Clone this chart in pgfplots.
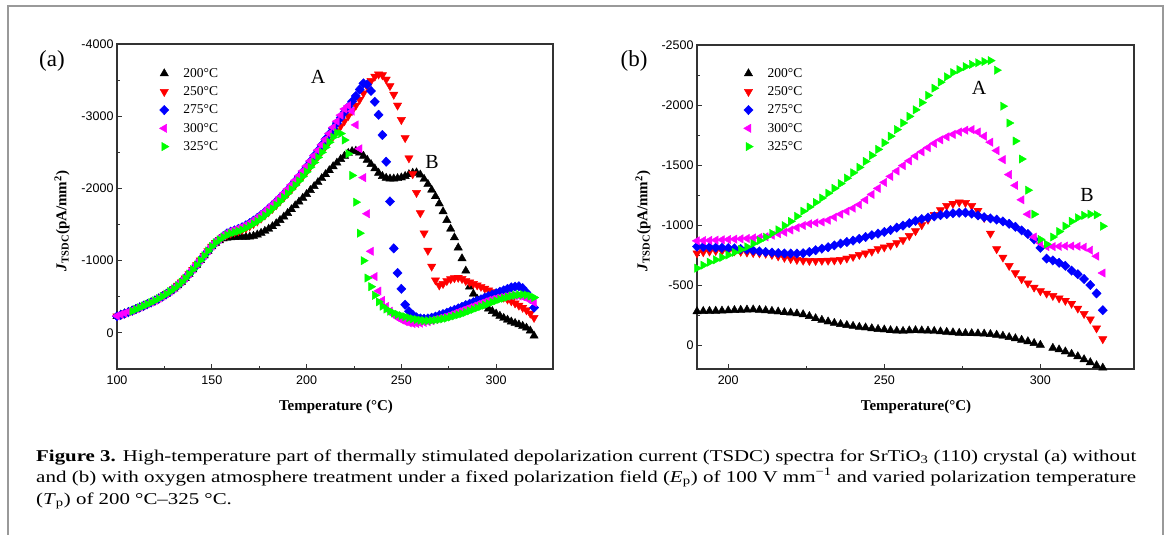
\documentclass[border=0pt]{standalone}
\usepackage{pgfplots}
\pgfplotsset{compat=1.18}
\usepackage{fontspec}
\setmainfont{Liberation Serif}
\newfontfamily\arial{Liberation Sans}

\definecolor{cR}{RGB}{255,0,0}
\definecolor{cB}{RGB}{0,0,255}
\definecolor{cM}{RGB}{255,0,255}
\definecolor{cG}{RGB}{0,255,0}

\pgfplotsset{
  tsdc/.style={
    scale only axis, anchor=south west,
    axis line style={line width=1.1pt, black!80},
    tick style={line width=0.9pt, black!80},
    tick align=inside, xtick pos=left, ytick pos=left,
    major tick length=5pt, minor tick length=3pt,
    minor x tick num=1, minor y tick num=1,
    y dir=reverse, clip=false,
    tick label style={font=\arial\fontsize{12.5}{13}\selectfont},
    xticklabel style={yshift=-3pt},
    /pgf/number format/assume math mode=true,
    /pgf/number format/1000 sep={},
    legend cell align=left,
    legend style={draw=none, fill=none, anchor=north west, inner sep=0pt,
      row sep=7.8pt, font=\fontsize{13.5}{14}\selectfont, nodes={inner sep=0pt}},
  },
  leg/.style={legend image code/.code={\path (0pt,0pt) (27pt,0pt); \draw[##1] plot coordinates {(8pt,0pt)};}},
  s200/.style={only marks, mark=triangle*, mark size=4.8pt, color=black, leg},
  s250/.style={only marks, mark=triangle*, mark size=4.8pt, color=cR, mark options={rotate=180}, leg},
  s275/.style={only marks, mark=diamond*, mark size=4.7pt, color=cB, mark options={xscale=1.3}, leg},
  s300/.style={only marks, mark=triangle*, mark size=4.8pt, color=cM, mark options={rotate=90}, leg},
  s325/.style={only marks, mark=triangle*, mark size=4.8pt, color=cG, mark options={rotate=-90}, leg},
}

\newsavebox\capone

\begin{document}
\sbox\capone{\fontsize{16.5}{21}\selectfont\textbf{Figure 3.} High-temperature part of thermally stimulated depolarization current (TSDC) spectra for SrTiO\textsubscript{3} (110) crystal (a) without}%
\pgfmathsetmacro\capf{1100/\the\wd\capone}%
\begin{tikzpicture}
\path[use as bounding box] (0pt,0pt) rectangle (1168pt,-535pt);
\draw[black!40, line width=1.3pt] (8pt,-6pt) rectangle (1163pt,-545pt);

% ---------- (a) without oxygen treatment
\begin{axis}[tsdc, at={(117pt,-369pt)}, width=436pt, height=325pt,
    xmin=100, xmax=330, ymin=-4000, ymax=500,
    xtick={100,150,...,300}, ytick={-4000,-3000,...,0},
    legend style={at={(axis cs:120.5,-3667)}}]
\addplot[s200] coordinates {(100,-230)(102,-250)(104,-268)(106,-288)(108,-308)(110,-330)(112,-352)(114,-375)(116,-398)(118,-422)(120,-447)(122,-475)(124,-505)(126,-538)(128,-573)(130,-612)(132,-655)(134,-703)(136,-757)(138,-815)(140,-876)(142,-940)(144,-1005)(146,-1070)(148,-1135)(150,-1195)(152,-1245)(154,-1280)(156,-1305)(158,-1316)(160,-1322)(162,-1325)(164,-1326)(166,-1327)(168,-1328)(170,-1332)(172,-1342)(174,-1360)(176,-1383)(178,-1410)(180,-1440)(182,-1475)(184,-1515)(186,-1560)(188,-1608)(190,-1658)(192,-1710)(194,-1763)(196,-1815)(198,-1868)(200,-1920)(202,-1975)(204,-2030)(206,-2085)(208,-2140)(210,-2195)(212,-2250)(214,-2305)(216,-2355)(218,-2405)(220,-2450)(222,-2490)(224,-2515)(226,-2520)(228,-2495)(230,-2450)(232,-2395)(234,-2335)(236,-2275)(238,-2215)(240,-2170)(242,-2145)(244,-2135)(246,-2135)(248,-2140)(250,-2150)(252,-2170)(254,-2195)(256,-2215)(258,-2220)(260,-2190)(262,-2130)(264,-2060)(266,-1980)(268,-1890)(270,-1790)(272,-1680)(274,-1560)(276,-1440)(278,-1320)(280,-1180)(282,-1030)(284,-860)(286,-640)(288,-540)(290,-470)(292,-420)(294,-375)(296,-335)(298,-300)(300,-265)(302,-235)(304,-205)(306,-180)(308,-155)(310,-135)(312,-115)(314,-95)(316,-70)(318,-30)(320,40)};
\addlegendentry{200°C}
\addplot[s250] coordinates {(100,-230)(102,-250)(104,-268)(106,-288)(108,-308)(110,-330)(112,-352)(114,-375)(116,-398)(118,-422)(120,-447)(122,-475)(124,-505)(126,-538)(128,-573)(130,-612)(132,-655)(134,-703)(136,-757)(138,-815)(140,-876)(142,-940)(144,-1005)(146,-1070)(148,-1135)(150,-1195)(152,-1248)(154,-1290)(156,-1330)(158,-1360)(160,-1380)(162,-1395)(164,-1410)(166,-1428)(168,-1450)(170,-1478)(172,-1510)(174,-1545)(176,-1585)(178,-1628)(180,-1673)(182,-1720)(184,-1770)(186,-1822)(188,-1875)(190,-1930)(192,-1988)(194,-2047)(196,-2108)(198,-2170)(200,-2235)(202,-2305)(204,-2375)(206,-2445)(208,-2515)(210,-2585)(212,-2655)(214,-2725)(216,-2795)(218,-2865)(220,-2935)(222,-3005)(224,-3075)(226,-3150)(228,-3230)(230,-3320)(232,-3410)(234,-3490)(236,-3550)(238,-3580)(240,-3570)(242,-3510)(244,-3420)(246,-3300)(248,-3150)(250,-2950)(252,-2700)(254,-2420)(256,-2200)(258,-1940)(260,-1660)(262,-1380)(264,-1140)(266,-920)(268,-730)(270,-660)(272,-680)(274,-720)(276,-745)(278,-760)(280,-765)(282,-750)(284,-720)(286,-700)(288,-680)(290,-660)(292,-640)(294,-615)(296,-590)(298,-565)(300,-540)(302,-515)(304,-490)(306,-465)(308,-440)(310,-410)(312,-380)(314,-350)(316,-315)(318,-270)(320,-210)};
\addlegendentry{250°C}
\addplot[s275] coordinates {(100,-230)(102,-250)(104,-268)(106,-288)(108,-308)(110,-330)(112,-352)(114,-375)(116,-398)(118,-422)(120,-447)(122,-475)(124,-505)(126,-538)(128,-573)(130,-612)(132,-655)(134,-703)(136,-757)(138,-815)(140,-876)(142,-940)(144,-1005)(146,-1070)(148,-1135)(150,-1195)(152,-1250)(154,-1295)(156,-1340)(158,-1378)(160,-1402)(162,-1420)(164,-1440)(166,-1462)(168,-1490)(170,-1520)(172,-1555)(174,-1592)(176,-1632)(178,-1676)(180,-1722)(182,-1770)(184,-1820)(186,-1872)(188,-1925)(190,-1980)(192,-2040)(194,-2100)(196,-2165)(198,-2232)(200,-2300)(202,-2375)(204,-2450)(206,-2525)(208,-2600)(210,-2680)(212,-2755)(214,-2830)(216,-2905)(218,-2980)(220,-3055)(222,-3130)(224,-3205)(226,-3280)(228,-3370)(230,-3455)(232,-3440)(234,-3350)(236,-3200)(238,-3020)(240,-2740)(242,-2370)(244,-1820)(246,-1170)(248,-830)(250,-610)(252,-390)(254,-300)(256,-250)(258,-215)(260,-200)(262,-195)(264,-200)(266,-210)(268,-225)(270,-245)(272,-260)(274,-280)(276,-300)(278,-320)(280,-340)(282,-360)(284,-385)(286,-405)(288,-425)(290,-445)(292,-465)(294,-490)(296,-510)(298,-530)(300,-550)(302,-570)(304,-590)(306,-610)(308,-630)(310,-640)(312,-645)(314,-620)(316,-560)(318,-470)(320,-350)};
\addlegendentry{275°C}
\addplot[s300] coordinates {(100,-235)(102,-255)(104,-273)(106,-293)(108,-313)(110,-335)(112,-357)(114,-380)(116,-403)(118,-427)(120,-452)(122,-480)(124,-510)(126,-543)(128,-578)(130,-617)(132,-660)(134,-708)(136,-762)(138,-820)(140,-881)(142,-945)(144,-1010)(146,-1075)(148,-1140)(150,-1200)(152,-1255)(154,-1300)(156,-1345)(158,-1385)(160,-1410)(162,-1428)(164,-1447)(166,-1468)(168,-1493)(170,-1522)(172,-1556)(174,-1594)(176,-1635)(178,-1680)(180,-1727)(182,-1776)(184,-1827)(186,-1880)(188,-1935)(190,-1992)(192,-2052)(194,-2113)(196,-2176)(198,-2242)(200,-2310)(202,-2382)(204,-2455)(206,-2530)(208,-2605)(210,-2680)(212,-2760)(214,-2845)(216,-2930)(218,-3015)(220,-3100)(222,-3145)(224,-3070)(226,-2880)(228,-2550)(230,-2150)(232,-1650)(234,-1130)(236,-780)(238,-580)(240,-450)(242,-365)(244,-300)(246,-250)(248,-210)(250,-180)(252,-155)(254,-140)(256,-130)(258,-130)(260,-135)(262,-145)(264,-155)(266,-170)(268,-185)(270,-200)(272,-215)(274,-230)(276,-250)(278,-270)(280,-290)(282,-310)(284,-330)(286,-350)(288,-370)(290,-390)(292,-410)(294,-430)(296,-450)(298,-465)(300,-480)(302,-490)(304,-500)(306,-510)(308,-515)(310,-515)(312,-510)(314,-500)(316,-480)(318,-460)(320,-420)};
\addlegendentry{300°C}
\addplot[s325] coordinates {(108,-300)(110,-325)(112,-348)(114,-372)(116,-396)(118,-420)(120,-446)(122,-474)(124,-504)(126,-537)(128,-572)(130,-611)(132,-654)(134,-702)(136,-756)(138,-814)(140,-875)(142,-939)(144,-1004)(146,-1069)(148,-1134)(150,-1195)(152,-1248)(154,-1290)(156,-1325)(158,-1355)(160,-1377)(162,-1393)(164,-1408)(166,-1427)(168,-1452)(170,-1480)(172,-1510)(174,-1544)(176,-1582)(178,-1626)(180,-1672)(182,-1720)(184,-1770)(186,-1822)(188,-1876)(190,-1932)(192,-1988)(194,-2045)(196,-2105)(198,-2167)(200,-2230)(202,-2295)(204,-2360)(206,-2430)(208,-2500)(210,-2570)(212,-2640)(214,-2710)(216,-2770)(218,-2760)(220,-2670)(222,-2480)(224,-2180)(226,-1810)(228,-1380)(230,-1000)(232,-760)(234,-640)(236,-520)(238,-430)(240,-370)(242,-330)(244,-300)(246,-275)(248,-255)(250,-240)(252,-225)(254,-210)(256,-195)(258,-185)(260,-175)(262,-170)(264,-170)(266,-172)(268,-178)(270,-185)(272,-195)(274,-205)(276,-220)(278,-235)(280,-250)(282,-265)(284,-285)(286,-305)(288,-325)(290,-345)(292,-365)(294,-385)(296,-405)(298,-425)(300,-445)(302,-465)(304,-480)(306,-495)(308,-510)(310,-520)(312,-530)(314,-530)(316,-525)(318,-510)(320,-490)};
\addlegendentry{325°C}
\end{axis}

% ---------- (b) with oxygen treatment
\begin{axis}[tsdc, at={(697pt,-369pt)}, width=437pt, height=324pt,
    xmin=190, xmax=330, ymin=-2500, ymax=200,
    xtick={200,250,300}, ytick={-2500,-2000,...,0},
    legend style={at={(axis cs:203.8,-2308)}}]
\addplot[s200] coordinates {(190,-280)(192,-282)(194,-283)(196,-284)(198,-285)(200,-287)(202,-290)(204,-292)(206,-294)(208,-295)(210,-292)(212,-288)(214,-283)(216,-278)(218,-272)(220,-268)(222,-262)(224,-255)(226,-240)(228,-222)(230,-208)(232,-195)(234,-183)(236,-173)(238,-165)(240,-158)(242,-150)(244,-145)(246,-138)(248,-132)(250,-128)(252,-122)(254,-118)(256,-116)(258,-120)(260,-122)(262,-120)(264,-118)(266,-116)(268,-112)(270,-108)(272,-104)(274,-100)(276,-98)(278,-97)(280,-96)(282,-94)(284,-90)(286,-84)(288,-76)(290,-65)(292,-55)(294,-42)(296,-30)(298,-15)(300,0)(304,25)(306,38)(308,55)(310,75)(312,95)(314,120)(316,145)(318,170)(320,190)};
\addlegendentry{200°C}
\addplot[s250] coordinates {(190,-765)(192,-775)(194,-780)(196,-785)(198,-785)(200,-785)(202,-782)(204,-778)(206,-772)(208,-768)(210,-765)(212,-762)(214,-752)(216,-740)(218,-728)(220,-718)(222,-710)(224,-704)(226,-702)(228,-702)(230,-703)(232,-704)(234,-706)(236,-710)(238,-722)(240,-736)(242,-752)(244,-765)(246,-780)(248,-800)(250,-815)(252,-830)(254,-850)(256,-875)(258,-910)(260,-950)(262,-1000)(264,-1045)(266,-1085)(268,-1125)(270,-1160)(272,-1178)(274,-1190)(276,-1185)(278,-1160)(280,-1120)(282,-1060)(284,-930)(286,-800)(288,-730)(290,-660)(292,-600)(294,-550)(296,-515)(298,-480)(300,-450)(302,-430)(304,-410)(306,-390)(308,-370)(310,-345)(312,-305)(314,-260)(316,-215)(318,-140)(320,-50)};
\addlegendentry{250°C}
\addplot[s275] coordinates {(190,-820)(192,-818)(194,-815)(196,-812)(198,-810)(200,-808)(202,-805)(204,-800)(206,-795)(208,-788)(210,-780)(212,-775)(214,-770)(216,-766)(218,-763)(220,-762)(222,-762)(224,-765)(226,-775)(228,-790)(230,-803)(232,-815)(234,-830)(236,-845)(238,-858)(240,-870)(242,-885)(244,-900)(246,-915)(248,-928)(250,-942)(252,-958)(254,-978)(256,-995)(258,-1015)(260,-1035)(262,-1050)(264,-1062)(266,-1072)(268,-1082)(270,-1090)(272,-1098)(274,-1102)(276,-1103)(278,-1095)(280,-1080)(282,-1065)(284,-1055)(286,-1045)(288,-1030)(290,-1010)(292,-985)(294,-955)(296,-925)(298,-880)(300,-810)(302,-720)(304,-705)(306,-685)(308,-660)(310,-620)(312,-590)(314,-550)(316,-500)(318,-430)(320,-290)};
\addlegendentry{275°C}
\addplot[s300] coordinates {(190,-868)(192,-870)(194,-872)(196,-874)(198,-877)(200,-879)(202,-882)(204,-885)(206,-888)(208,-892)(210,-896)(212,-902)(214,-915)(216,-928)(218,-940)(220,-958)(222,-978)(224,-996)(226,-1010)(228,-1018)(230,-1025)(232,-1040)(234,-1065)(236,-1090)(238,-1115)(240,-1140)(242,-1170)(244,-1210)(246,-1255)(248,-1305)(250,-1355)(252,-1405)(254,-1450)(256,-1495)(258,-1535)(260,-1575)(262,-1610)(264,-1645)(266,-1680)(268,-1710)(270,-1735)(272,-1755)(274,-1775)(276,-1790)(278,-1795)(280,-1775)(282,-1740)(284,-1690)(286,-1620)(288,-1545)(290,-1420)(292,-1330)(294,-1210)(296,-1090)(298,-900)(300,-850)(302,-820)(304,-820)(306,-822)(308,-825)(310,-825)(312,-822)(314,-815)(316,-790)(318,-740)(320,-600)};
\addlegendentry{300°C}
\addplot[s325] coordinates {(190,-640)(192,-665)(194,-690)(196,-710)(198,-730)(200,-750)(202,-772)(204,-795)(206,-818)(208,-845)(210,-870)(212,-898)(214,-930)(216,-960)(218,-995)(220,-1030)(222,-1072)(224,-1115)(226,-1150)(228,-1188)(230,-1225)(232,-1265)(234,-1305)(236,-1345)(238,-1390)(240,-1435)(242,-1480)(244,-1530)(246,-1580)(248,-1630)(250,-1685)(252,-1740)(254,-1795)(256,-1850)(258,-1905)(260,-1960)(262,-2020)(264,-2080)(266,-2140)(268,-2190)(270,-2235)(272,-2270)(274,-2295)(276,-2320)(278,-2338)(280,-2352)(282,-2362)(284,-2370)(286,-2290)(288,-1990)(290,-1850)(292,-1700)(294,-1550)(296,-1290)(298,-1090)(300,-880)(302,-840)(304,-900)(306,-945)(308,-990)(310,-1030)(312,-1060)(314,-1080)(316,-1090)(318,-1085)(320,-990)};
\addlegendentry{325°C}
\end{axis}

% panel letters, peak labels, axis titles
\node[font=\fontsize{23}{24}\selectfont] at (52pt,-61pt) {(a)};
\node[font=\fontsize{23}{24}\selectfont] at (634pt,-61pt) {(b)};
\node[font=\fontsize{20}{22}\selectfont] at (318pt,-77pt) {A};
\node[font=\fontsize{20}{22}\selectfont] at (432pt,-162pt) {B};
\node[font=\fontsize{20}{22}\selectfont] at (979pt,-88pt) {A};
\node[font=\fontsize{20}{22}\selectfont] at (1087pt,-195pt) {B};
\node[rotate=90, font=\bfseries\fontsize{15}{16}\selectfont] at (62pt,-221pt) {\textit{J}\textsubscript{TSDC}(pA/mm\textsuperscript{2})};
\node[rotate=90, font=\bfseries\fontsize{15}{16}\selectfont] at (643pt,-221pt) {\textit{J}\textsubscript{TSDC}(pA/mm\textsuperscript{2})};
\node[font=\bfseries\fontsize{15}{16}\selectfont] at (336pt,-407pt) {Temperature (°C)};
\node[font=\bfseries\fontsize{15}{16}\selectfont] at (916pt,-407pt) {Temperature(°C)};

% caption
\node[anchor=base west, inner sep=0pt] at (36pt,-461pt) {\resizebox{1100pt}{\height}{\usebox\capone}};
\node[anchor=base west, inner sep=0pt] at (36pt,-482pt) {\resizebox{1100pt}{\height}{\fontsize{16.5}{21}\selectfont and (b) with oxygen atmosphere treatment under a fixed polarization field (\textit{E}\textsubscript{p}) of 100 V mm\textsuperscript{−1} and varied polarization temperature}};
\node[anchor=base west, inner sep=0pt] at (36pt,-504pt) {\scalebox{\capf}[1]{\fontsize{16.5}{21}\selectfont (\textit{T}\textsubscript{p}) of 200 °C–325 °C.}};
\end{tikzpicture}
\end{document}
